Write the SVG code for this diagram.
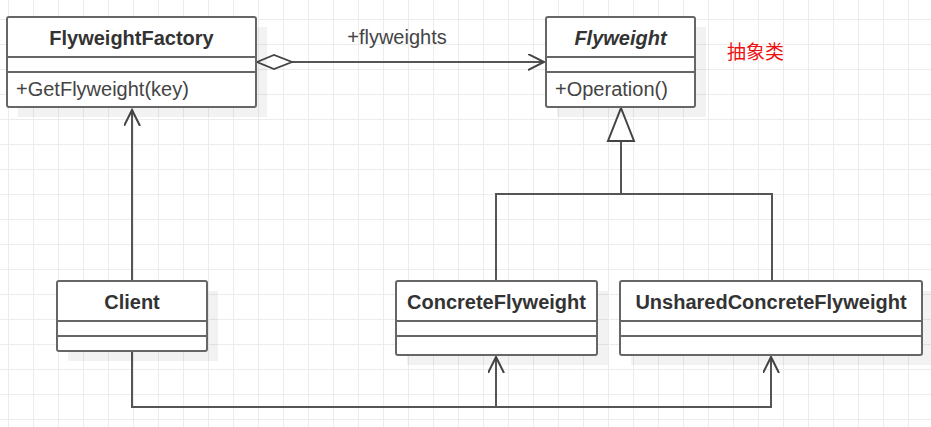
<svg xmlns="http://www.w3.org/2000/svg" width="931" height="427" viewBox="0 0 931 427">
<defs>
  <pattern id="grid" x="8" y="19" width="25" height="25" patternUnits="userSpaceOnUse">
    <path d="M0.5 0V25M0 0.5H25" fill="none" stroke="#ececec" stroke-width="1"/>
  </pattern>
  <marker id="open" viewBox="0 0 20 20" refX="16" refY="8" markerWidth="20" markerHeight="20" markerUnits="userSpaceOnUse" orient="auto">
    <path d="M0 0L16 8L0 16" fill="none" stroke="#444" stroke-width="2"/>
  </marker>
</defs>
<style>
  .shadow{fill:#000;fill-opacity:0.05}
  .box{fill:#fff;stroke:#666;stroke-width:2}
  .sep{stroke:#666;stroke-width:2}
  .hdr{font-family:"Liberation Sans",Arial,sans-serif;font-size:20px;font-weight:bold;fill:#333;text-anchor:middle}
  .mem{font-family:"Liberation Sans",Arial,sans-serif;font-size:20px;fill:#444}
  .lbl{font-family:"Liberation Sans",Arial,sans-serif;font-size:20px;fill:#444;text-anchor:middle}
  .ln{fill:none;stroke:#555;stroke-width:2}
</style>
<rect width="931" height="427" fill="#fff"/>
<rect width="931" height="427" fill="url(#grid)"/>

<g id="connectors">
  <path class="ln" d="M132 281V110" marker-end="url(#open)"/>
  <path class="ln" d="M292 62H544" stroke="#444" stroke-width="2.5" marker-end="url(#open)"/>
  <path d="M257 62L274 55L292 62L274 69Z" fill="#fff" stroke="#444" stroke-width="1.8"/>
  <path class="ln" d="M621 141V194M496 281V194H772V281"/>
  <path d="M621 108L634 141H608Z" fill="#fff" stroke="#444" stroke-width="2"/>
  <path class="ln" d="M132 351V407H496V357" marker-end="url(#open)"/>
  <path class="ln" d="M132 407H771V357" marker-end="url(#open)"/>
</g>
<text class="lbl" x="397" y="44">+flyweights</text>

<g id="FlyweightFactory">
  <rect class="shadow" x="18" y="27" width="249" height="90"/>
  <rect class="box" x="7" y="17" width="249" height="90" rx="2"/>
  <path class="sep" d="M7 57H256M7 72H256"/>
  <text class="hdr" x="131.5" y="45">FlyweightFactory</text>
  <text class="mem" x="16" y="96">+GetFlyweight(key)</text>
</g>

<g id="Flyweight">
  <rect class="shadow" x="557" y="27" width="149" height="90"/>
  <rect class="box" x="546" y="17" width="149" height="90" rx="2"/>
  <path class="sep" d="M546 57H695M546 72H695"/>
  <text class="hdr" x="620.5" y="45" font-style="italic">Flyweight</text>
  <text class="mem" x="555" y="96">+Operation()</text>
</g>

<text x="727" y="59" font-family="'Noto Sans CJK SC',sans-serif" font-size="19" fill="#ee1111">抽象类</text>

<g id="Client">
  <rect class="shadow" x="68" y="291" width="150" height="70"/>
  <rect class="box" x="57" y="281" width="150" height="70" rx="2"/>
  <path class="sep" d="M57 321H207M57 336H207"/>
  <text class="hdr" x="132" y="309">Client</text>
</g>

<g id="ConcreteFlyweight">
  <rect class="shadow" x="407" y="291" width="201" height="74"/>
  <rect class="box" x="396" y="281" width="201" height="74" rx="2"/>
  <path class="sep" d="M396 321H597M396 336H597"/>
  <text class="hdr" x="496.5" y="309">ConcreteFlyweight</text>
</g>

<g id="UnsharedConcreteFlyweight">
  <rect class="shadow" x="631" y="291" width="302" height="74"/>
  <rect class="box" x="620" y="281" width="302" height="74" rx="2"/>
  <path class="sep" d="M620 321H922M620 336H922"/>
  <text class="hdr" x="771" y="309">UnsharedConcreteFlyweight</text>
</g>
</svg>
